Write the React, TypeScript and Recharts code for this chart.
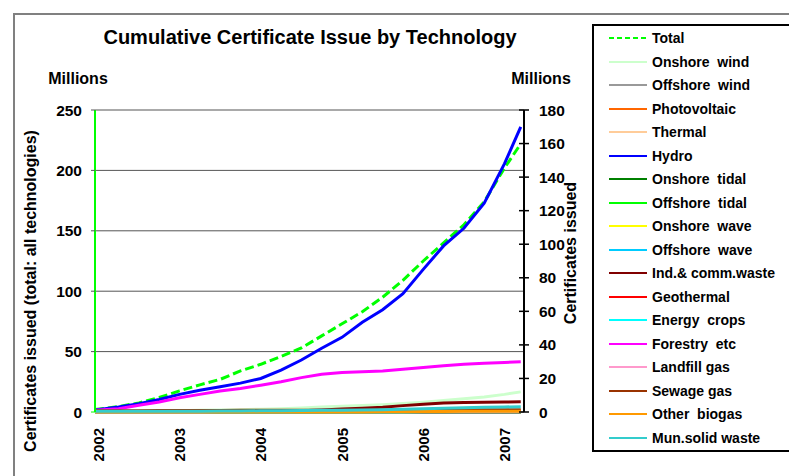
import React from 'react'
import { LineChart, Line, XAxis, YAxis, CartesianGrid } from 'recharts'

// quarterly sample points (decimal years)
const times = [2001.96, 2002.25, 2002.5, 2002.75, 2003, 2003.25, 2003.5, 2003.75, 2004, 2004.25, 2004.5,
  2004.75, 2005, 2005.25, 2005.5, 2005.75, 2006, 2006.25, 2006.5, 2006.75, 2007, 2007.2]

const yearTicks = [2002, 2003, 2004, 2005, 2006, 2007]
const leftTicks = [0, 50, 100, 150, 200, 250]
const rightTicks = [0, 20, 40, 60, 80, 100, 120, 140, 160, 180]

// millions of certificates
const total = [2, 4.5, 7.5, 12, 17.5, 22.5, 27, 34, 39.5, 46, 53, 63, 73, 83, 95, 109, 125, 140, 155, 174, 202, 222]
const hydro = [1.2, 3, 5, 7.5, 10.5, 13, 15, 17.2, 20, 25, 31, 38, 44.5, 53.5, 61, 70.5, 85, 99, 109.5, 124.4, 148, 170]
const forestry = [1, 2, 4, 6, 8.5, 10.5, 12.5, 14, 16, 18, 20.5, 22.5, 23.5, 24, 24.5, 25.5, 26.5, 27.5, 28.5, 29, 29.5, 30]
const onshoreWind = [0.3, 0.4, 0.5, 0.6, 0.8, 1.0, 1.2, 1.4, 1.7, 2.0, 2.4, 3.0, 3.4, 3.8, 4.3, 5.0, 5.8, 6.8, 7.9, 9.0, 10.5, 12]
const offshoreWind = [0, 0, 0, 0, 0, 0, 0, 0, 0, 0, 0, 0, 0, 0, 0.1, 0.2, 0.3, 0.4, 0.5, 0.6, 0.7, 0.8]
const photovoltaic = [0, 0, 0, 0, 0, 0, 0, 0, 0, 0, 0, 0, 0, 0, 0, 0, 0, 0, 0, 0, 0, 0]
const thermal = [0, 0, 0, 0, 0, 0, 0, 0, 0, 0, 0, 0, 0, 0, 0, 0, 0, 0, 0, 0, 0, 0]
const onshoreTidal = [0, 0, 0, 0, 0, 0, 0, 0, 0, 0, 0, 0, 0, 0, 0, 0, 0, 0, 0, 0, 0, 0]
const offshoreTidal = [0, 0, 0, 0, 0, 0, 0, 0, 0, 0, 0, 0, 0, 0, 0, 0, 0, 0, 0, 0, 0, 0]
const onshoreWave = [0, 0, 0, 0, 0, 0, 0, 0, 0, 0, 0, 0, 0, 0, 0, 0, 0, 0, 0, 0, 0, 0]
const offshoreWave = [0, 0, 0, 0, 0, 0, 0, 0, 0, 0, 0, 0, 0, 0, 0, 0, 0, 0, 0, 0, 0, 0]
const indCommWaste = [0.3, 0.3, 0.3, 0.3, 0.3, 0.3, 0.3, 0.3, 0.4, 0.5, 0.8, 1.2, 1.8, 2.3, 2.8, 3.8, 4.6, 5.4, 5.6, 5.8, 5.9, 6.1]
const geothermal = [0, 0, 0, 0, 0, 0, 0, 0, 0, 0, 0, 0, 0, 0, 0, 0, 0, 0, 0, 0, 0, 0]
const energyCrops = [0, 0, 0, 0, 0, 0, 0, 0, 0, 0, 0, 0, 0, 0, 0, 0, 0.1, 0.1, 0.1, 0.1, 0.1, 0.1]
const landfillGas = [0.2, 0.2, 0.2, 0.2, 0.2, 0.2, 0.3, 0.3, 0.3, 0.3, 0.3, 0.3, 0.4, 0.4, 0.4, 0.4, 0.4, 0.5, 0.5, 0.5, 0.5, 0.5]
const sewageGas = [0.8, 0.8, 0.8, 0.9, 0.9, 0.9, 0.9, 1, 1, 1, 1, 1.1, 1.1, 1.1, 1.2, 1.2, 1.2, 1.3, 1.3, 1.3, 1.4, 1.4]
const otherBiogas = [0, 0, 0, 0, 0, 0, 0, 0, 0, 0, 0, 0, 0, 0, 0.1, 0.2, 0.3, 0.3, 0.4, 0.4, 0.5, 0.5]
const munSolidWaste = [0.4, 0.4, 0.4, 0.5, 0.5, 0.5, 0.6, 0.6, 0.7, 0.8, 0.9, 1.0, 1.0, 1.2, 1.4, 1.6, 1.9, 2.2, 2.5, 2.8, 3.0, 3.2]

const series = [
  { key: 'total', name: 'Total', color: '#00ff00', values: total, axis: 'left', dashed: true },
  { key: 'onshoreWind', name: 'Onshore  wind', color: '#ccffcc', values: onshoreWind, axis: 'right' },
  { key: 'offshoreWind', name: 'Offshore  wind', color: '#999999', values: offshoreWind, axis: 'right' },
  { key: 'photovoltaic', name: 'Photovoltaic', color: '#ff6600', values: photovoltaic, axis: 'right' },
  { key: 'thermal', name: 'Thermal', color: '#ffcc99', values: thermal, axis: 'right' },
  { key: 'hydro', name: 'Hydro', color: '#0000ff', values: hydro, axis: 'right' },
  { key: 'onshoreTidal', name: 'Onshore  tidal', color: '#008000', values: onshoreTidal, axis: 'right' },
  { key: 'offshoreTidal', name: 'Offshore  tidal', color: '#00ff00', values: offshoreTidal, axis: 'right' },
  { key: 'onshoreWave', name: 'Onshore  wave', color: '#ffff00', values: onshoreWave, axis: 'right' },
  { key: 'offshoreWave', name: 'Offshore  wave', color: '#00ccff', values: offshoreWave, axis: 'right' },
  { key: 'indCommWaste', name: 'Ind.& comm.waste', color: '#800000', values: indCommWaste, axis: 'right' },
  { key: 'geothermal', name: 'Geothermal', color: '#ff0000', values: geothermal, axis: 'right' },
  { key: 'energyCrops', name: 'Energy  crops', color: '#00ffff', values: energyCrops, axis: 'right' },
  { key: 'forestry', name: 'Forestry  etc', color: '#ff00ff', values: forestry, axis: 'right' },
  { key: 'landfillGas', name: 'Landfill gas', color: '#ff99cc', values: landfillGas, axis: 'right' },
  { key: 'sewageGas', name: 'Sewage gas', color: '#993300', values: sewageGas, axis: 'right' },
  { key: 'otherBiogas', name: 'Other  biogas', color: '#ff9900', values: otherBiogas, axis: 'right' },
  { key: 'munSolidWaste', name: 'Mun.solid waste', color: '#33cccc', values: munSolidWaste, axis: 'right' },
]

const data = times.map((t, i) => {
  const row: Record<string, number> = { t }
  series.forEach((s) => { row[s.key] = s.values[i] })
  return row
})

const FONT = '"Liberation Sans", Arial, sans-serif'
const PLOT_LEFT = 95
const PLOT_RIGHT = 524

const LeftTick = ({ y, payload }: any) => (
  <g>
    <line x1={PLOT_LEFT - 4} x2={PLOT_LEFT} y1={y} y2={y} stroke={payload.value === 0 ? '#00ff00' : '#555'} />
    <text x={PLOT_LEFT - 13} y={y} textAnchor="end" dominantBaseline="central"
      fontFamily={FONT} fontWeight="bold" fontSize={15.5} fill="#000">{payload.value}</text>
  </g>
)

const RightTick = ({ y, payload }: any) => (
  <g>
    <line x1={PLOT_RIGHT - 5} x2={PLOT_RIGHT + 5} y1={y} y2={y} stroke="#000" strokeWidth={1.5} />
    <text x={PLOT_RIGHT + 15} y={y} textAnchor="start" dominantBaseline="central"
      fontFamily={FONT} fontWeight="bold" fontSize={15.5} fill="#000">{payload.value}</text>
  </g>
)

const YearTick = ({ x, payload }: any) => (
  <text x={x} y={428} transform={`rotate(-90 ${x} 428)`} textAnchor="end" dominantBaseline="central"
    fontFamily={FONT} fontWeight="bold" fontSize={15} fill="#000">{payload.value}</text>
)

const boldText: React.CSSProperties = {
  position: 'absolute', fontFamily: FONT, fontWeight: 'bold', color: '#000', whiteSpace: 'nowrap', lineHeight: 1,
}

export default function App() {
  return (
    <div style={{ position: 'absolute', left: 0, top: 0, width: 789, height: 476, background: '#fff', overflow: 'hidden' }}>
      <div style={{ position: 'absolute', left: 13, top: 13, width: 800, height: 500, borderLeft: '2px solid #808080', borderTop: '2px solid #808080' }} />
      <LineChart width={789} height={476} data={data} margin={{ top: 110, right: 205, bottom: 14, left: 35 }}>
        <CartesianGrid yAxisId="left" vertical={false} stroke="#555" ticks={leftTicks} />
        <XAxis dataKey="t" type="number" domain={[2001.96, 2007.24]} ticks={yearTicks} allowDataOverflow
          axisLine={false} tickLine={false} height={50} tick={<YearTick />} interval={0} />
        <YAxis yAxisId="left" domain={[0, 250]} ticks={leftTicks} width={60} interval={0}
          axisLine={{ stroke: '#00ff00', strokeWidth: 2 }} tickLine={false} tick={<LeftTick />} />
        <YAxis yAxisId="right" orientation="right" domain={[0, 180]} ticks={rightTicks} width={60} interval={0}
          axisLine={{ stroke: '#000', strokeWidth: 2 }} tickLine={false} tick={<RightTick />} />
        {series.map((s) => (
          <Line key={s.key} yAxisId={s.axis} dataKey={s.key} type="linear" stroke={s.color}
            strokeWidth={3} strokeDasharray={s.dashed ? '9 4' : undefined} dot={false} activeDot={false}
            isAnimationActive={false} />
        ))}
      </LineChart>

      <div style={{ ...boldText, left: 310, top: 37, fontSize: 20, transform: 'translate(-50%, -50%)' }}>
        Cumulative Certificate Issue by Technology
      </div>
      <div style={{ ...boldText, left: 78, top: 79, fontSize: 16, transform: 'translate(-50%, -50%)' }}>Millions</div>
      <div style={{ ...boldText, left: 541, top: 79, fontSize: 16, transform: 'translate(-50%, -50%)' }}>Millions</div>
      <div style={{ ...boldText, left: 31, top: 291, fontSize: 16, transform: 'translate(-50%, -50%) rotate(-90deg)' }}>
        Certificates issued (total: all technologies)
      </div>
      <div style={{ ...boldText, left: 571, top: 253, fontSize: 16, transform: 'translate(-50%, -50%) rotate(-90deg)' }}>
        Certificates issued
      </div>

      <div style={{ position: 'absolute', left: 592, top: 24, width: 210, height: 424, border: '2px solid #000', background: '#fff' }}>
        {series.map((s, i) => (
          <div key={s.key} style={{ position: 'absolute', left: 14, top: 12 + i * 23.5 - 10, height: 20, display: 'flex', alignItems: 'center' }}>
            <svg width={40} height={6} style={{ display: 'block' }}>
              <line x1={1} x2={39} y1={3} y2={3} stroke={s.color} strokeWidth={2} strokeDasharray={s.dashed ? '5 3' : undefined} />
            </svg>
            <span style={{ fontFamily: FONT, fontWeight: 'bold', fontSize: 14, marginLeft: 4, whiteSpace: 'pre' }}>{s.name}</span>
          </div>
        ))}
      </div>
    </div>
  )
}
